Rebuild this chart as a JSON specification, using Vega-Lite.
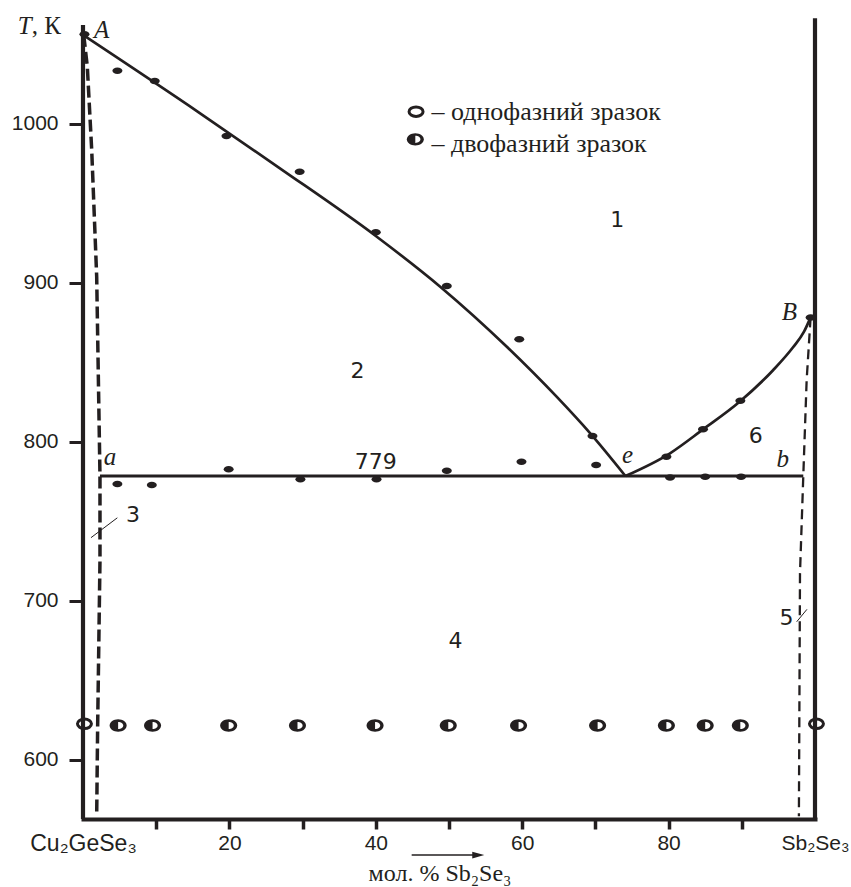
{
  "$schema": "https://vega.github.io/schema/vega-lite/v6.json",
  "autosize": {"type": "none"},
  "width": 732,
  "height": 799,
  "padding": {"left": 83, "top": 20, "right": 36, "bottom": 68},
  "background": "white",
  "config": {"view": {"stroke": null}},
  "datasets": {
    "frame": [
      {"x": 0, "T": 562.7, "T2": 1062.2},
      {"x": 100, "T": 562.7, "T2": 1066.5}
    ],
    "liqL": [
      {"x": 0, "T": 1056}, {"x": 16, "T": 1006.7}, {"x": 26.9, "T": 972.1},
      {"x": 40, "T": 929.5}, {"x": 48.8, "T": 897.6}, {"x": 57.9, "T": 859.8},
      {"x": 64.7, "T": 828.4}, {"x": 69.3, "T": 805.3}, {"x": 74.1, "T": 778.5}
    ],
    "liqR": [
      {"x": 74.1, "T": 778.5}, {"x": 80.2, "T": 792.8}, {"x": 84.7, "T": 807.8},
      {"x": 89.7, "T": 825.2}, {"x": 94.3, "T": 845.2}, {"x": 97.0, "T": 859.5},
      {"x": 98.5, "T": 869.3}, {"x": 99.4, "T": 878.3}
    ],
    "eut": [{"x": 2.32, "T": 778.5}, {"x": 98.4, "T": 778.5}],
    "solL": [
      {"o": 1, "x": 0.1, "T": 1056}, {"o": 2, "x": 0.59, "T": 1036},
      {"o": 3, "x": 1.19, "T": 983.6}, {"o": 4, "x": 1.87, "T": 903.9},
      {"o": 5, "x": 2.32, "T": 778.5}, {"o": 6, "x": 2.32, "T": 725.6},
      {"o": 7, "x": 2.0, "T": 620.8}, {"o": 8, "x": 1.87, "T": 564.5}
    ],
    "solR": [
      {"o": 1, "x": 99.4, "T": 878.3}, {"o": 2, "x": 98.86, "T": 838.9},
      {"o": 3, "x": 98.4, "T": 778.5}, {"o": 4, "x": 97.95, "T": 717.3},
      {"o": 5, "x": 97.8, "T": 564.5}
    ],
    "pointers": [
      {"x": 1.09, "T": 739.7, "x2": 4.69, "T2": 752.2},
      {"x": 97.5, "T": 686.8, "x2": 98.9, "T2": 694.6}
    ],
    "arrow": [{"x": 44.9, "T": 540, "x2": 53.6, "T2": 540}],
    "arrowHead": [{"x": 54.0, "T": 540}],
    "dta": [
      {"x": 0.2, "T": 1056.4}, {"x": 4.7, "T": 1033.5}, {"x": 9.8, "T": 1027},
      {"x": 19.6, "T": 992.4}, {"x": 29.6, "T": 969.9}, {"x": 40.0, "T": 931.8},
      {"x": 49.7, "T": 898}, {"x": 59.6, "T": 864.5}, {"x": 69.6, "T": 803.6},
      {"x": 79.7, "T": 790.6}, {"x": 84.7, "T": 807.9}, {"x": 89.8, "T": 825.9},
      {"x": 99.4, "T": 878.3},
      {"x": 4.7, "T": 773.4}, {"x": 9.4, "T": 772.8}, {"x": 19.9, "T": 782.7},
      {"x": 29.7, "T": 776.4}, {"x": 40.1, "T": 776.4}, {"x": 49.7, "T": 781.8},
      {"x": 59.9, "T": 787.5}, {"x": 70.1, "T": 785.4}, {"x": 80.2, "T": 777.5},
      {"x": 85.0, "T": 778.0}, {"x": 89.9, "T": 778.0}
    ],
    "twoPhase": [
      {"x": 4.8, "T": 621.5}, {"x": 9.5, "T": 621.5}, {"x": 19.9, "T": 621.5},
      {"x": 29.3, "T": 621.5}, {"x": 39.9, "T": 621.5}, {"x": 49.9, "T": 621.5},
      {"x": 59.5, "T": 621.5}, {"x": 70.3, "T": 621.5}, {"x": 79.7, "T": 621.5},
      {"x": 85.0, "T": 621.5}, {"x": 89.8, "T": 621.5},
      {"x": 45.4, "T": 990.3}
    ],
    "onePhase": [
      {"x": 0.2, "T": 622.6}, {"x": 100.2, "T": 622.6}, {"x": 45.5, "T": 1007.7}
    ],
    "regions": [
      {"x": 73.0, "T": 935.1, "t": "1"}, {"x": 37.5, "T": 840.1, "t": "2"},
      {"x": 6.83, "T": 749.7, "t": "3"}, {"x": 50.9, "T": 670.3, "t": "4"},
      {"x": 96.1, "T": 684.7, "t": "5"}, {"x": 91.9, "T": 799.1, "t": "6"},
      {"x": 40.0, "T": 782.7, "t": "779"}
    ],
    "italics": [
      {"x": 2.53, "T": 1053.9, "t": "A"}, {"x": 96.5, "T": 876.6, "t": "B"},
      {"x": 3.7, "T": 785.4, "t": "a"}, {"x": 95.6, "T": 784.3, "t": "b"},
      {"x": 74.4, "T": 786.5, "t": "e"}
    ],
    "legendText": [
      {"x": 47.6, "T": 1002.2, "t": "– однофазний зразок"},
      {"x": 47.6, "T": 982.4, "t": "– двофазний зразок"}
    ],
    "yTitleT": [{"x": -8.9, "T": 1056.4, "t": "T"}],
    "yTitleK": [{"x": -7.0, "T": 1056.4, "t": ", К"}]
  },
  "encoding": {
    "x": {
      "field": "x", "type": "quantitative",
      "scale": {"domain": [0, 100], "nice": false, "zero": false},
      "axis": {
        "values": [0, 10, 20, 30, 40, 50, 60, 70, 80, 90, 100],
        "labelExpr": "datum.value == 0 ? 'Cu₂GeSe₃' : (datum.value == 100 ? 'Sb₂Se₃' : (datum.value % 20 == 0 ? datum.label : ''))",
        "grid": false,
        "domainWidth": 4, "domainColor": "#231f20", "domainCap": "square",
        "tickSize": 10, "tickWidth": 3.5, "tickColor": "#231f20",
        "tickOpacity": {"condition": {"test": "datum.value == 0 || datum.value == 100", "value": 0}, "value": 1},
        "labelFont": "Liberation Sans",
        "labelFontSize": {"condition": {"test": "datum.value == 0", "value": 23}, "value": 21},
        "labelColor": "#231f20", "labelPadding": 3, "labelFlush": false, "labelOverlap": false, "labelBound": false,
        "title": "мол. % Sb₂Se₃",
        "titleFont": "Liberation Serif", "titleFontSize": 24, "titleFontWeight": "normal", "titleColor": "#231f20",
        "titleX": 356.5, "titleY": 61, "titleBaseline": "alphabetic", "titleAlign": "center"
      }
    },
    "y": {
      "field": "T", "type": "quantitative",
      "scale": {"domain": [562.7, 1065.4], "nice": false, "zero": false},
      "axis": {
        "values": [600, 700, 800, 900, 1000],
        "format": "d",
        "grid": false, "domain": false,
        "tickSize": 14, "tickWidth": 3, "tickColor": "#231f20",
        "labelFont": "Liberation Sans", "labelFontSize": 21, "labelColor": "#231f20", "labelPadding": 11,
        "title": null
      }
    }
  },
  "layer": [
    {
      "data": {"name": "frame"},
      "mark": {"type": "rule", "strokeWidth": 4.2, "color": "#231f20"},
      "encoding": {"y2": {"field": "T2"}}
    },
    {
      "data": {"name": "liqL"},
      "mark": {"type": "line", "interpolate": "monotone", "strokeWidth": 2.7, "color": "#231f20"},
      "encoding": {}
    },
    {
      "data": {"name": "liqR"},
      "mark": {"type": "line", "interpolate": "monotone", "strokeWidth": 2.7, "color": "#231f20"},
      "encoding": {}
    },
    {
      "data": {"name": "eut"},
      "mark": {"type": "line", "strokeWidth": 2.8, "color": "#231f20"},
      "encoding": {}
    },
    {
      "data": {"name": "solL"},
      "mark": {"type": "line", "strokeWidth": 3.5, "strokeDash": [12, 5], "color": "#231f20"},
      "encoding": {"order": {"field": "o", "type": "quantitative"}}
    },
    {
      "data": {"name": "solR"},
      "mark": {"type": "line", "strokeWidth": 2.3, "strokeDash": [10, 6], "color": "#231f20"},
      "encoding": {"order": {"field": "o", "type": "quantitative"}}
    },
    {
      "data": {"name": "pointers"},
      "mark": {"type": "rule", "strokeWidth": 1, "color": "#231f20"},
      "encoding": {"x2": {"field": "x2"}, "y2": {"field": "T2"}}
    },
    {
      "data": {"name": "arrow"},
      "mark": {"type": "rule", "strokeWidth": 1.5, "color": "#231f20"},
      "encoding": {"x2": {"field": "x2"}, "y2": {"field": "T2"}}
    },
    {
      "data": {"name": "arrowHead"},
      "mark": {"type": "point", "shape": "M-1,-0.55L1,0L-1,0.55Z", "size": 144, "filled": true, "fill": "#231f20", "strokeWidth": 0, "opacity": 1},
      "encoding": {}
    },
    {
      "data": {"name": "dta"},
      "mark": {"type": "point", "shape": "M-1,0A1,0.65,0,1,0,1,0A1,0.65,0,1,0,-1,0Z", "size": 100, "filled": true, "fill": "#231f20", "strokeWidth": 0, "opacity": 1},
      "encoding": {}
    },
    {
      "data": {"name": "twoPhase"},
      "mark": {"type": "point", "shape": "M-1,0A1,0.73,0,1,0,1,0A1,0.73,0,1,0,-1,0Z", "size": 289, "filled": true, "fill": "#231f20", "strokeWidth": 0, "opacity": 1},
      "encoding": {}
    },
    {
      "data": {"name": "twoPhase"},
      "mark": {"type": "point", "shape": "M0,-0.42A0.6,0.42,0,0,1,0,0.42Z", "size": 289, "filled": true, "fill": "white", "strokeWidth": 0, "opacity": 1},
      "encoding": {}
    },
    {
      "data": {"name": "onePhase"},
      "mark": {"type": "point", "shape": "M-1,0A1,0.68,0,1,0,1,0A1,0.68,0,1,0,-1,0Z", "size": 196, "filled": false, "stroke": "#231f20", "strokeWidth": 3, "opacity": 1},
      "encoding": {}
    },
    {
      "data": {"name": "regions"},
      "mark": {"type": "text", "font": "DejaVu Sans", "fontSize": 22, "align": "center", "baseline": "alphabetic", "color": "#231f20"},
      "encoding": {"text": {"field": "t"}}
    },
    {
      "data": {"name": "italics"},
      "mark": {"type": "text", "font": "Liberation Serif", "fontStyle": "italic", "fontSize": 25, "align": "center", "baseline": "alphabetic", "color": "#231f20"},
      "encoding": {"text": {"field": "t"}}
    },
    {
      "data": {"name": "legendText"},
      "mark": {"type": "text", "font": "Liberation Serif", "fontSize": 26, "align": "left", "baseline": "alphabetic", "color": "#231f20"},
      "encoding": {"text": {"field": "t"}}
    },
    {
      "data": {"name": "yTitleT"},
      "mark": {"type": "text", "font": "Liberation Serif", "fontStyle": "italic", "fontSize": 25, "align": "left", "baseline": "alphabetic", "color": "#231f20"},
      "encoding": {"text": {"field": "t"}}
    },
    {
      "data": {"name": "yTitleK"},
      "mark": {"type": "text", "font": "Liberation Serif", "fontSize": 25, "align": "left", "baseline": "alphabetic", "color": "#231f20"},
      "encoding": {"text": {"field": "t"}}
    }
  ]
}
